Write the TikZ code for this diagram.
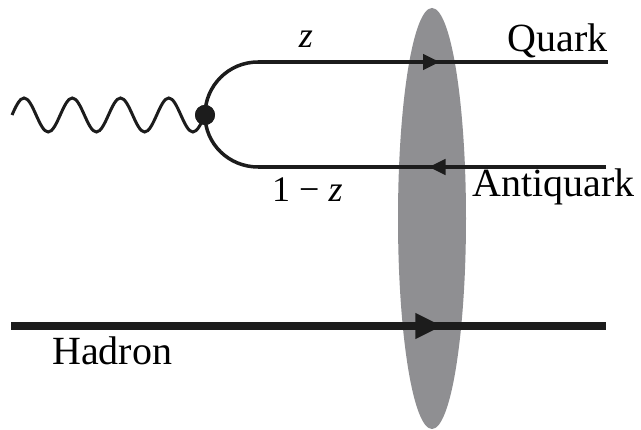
\documentclass[tikz,border=0pt]{standalone}
\usepackage{fontspec}
\setmainfont{Liberation Serif}
\usepackage{tikz}
\usetikzlibrary{arrows.meta,positioning,shapes.geometric,decorations.markings}
\definecolor{blobgray}{RGB}{143,143,146}
\definecolor{ink}{RGB}{28,28,28}

\begin{document}
\begin{tikzpicture}[
  x=1pt, y=1pt,
  lbl/.style={font=\fontsize{40}{48}\selectfont, inner sep=0pt},
  frac/.style={font=\fontsize{36}{43}\selectfont, inner sep=0pt},
  fline/.style={line width=4.5pt, draw=ink},
  arcline/.style={line width=3.5pt, draw=ink},
  photon/.style={line width=3pt, draw=ink},
  midarr/.style={postaction={decorate}, decoration={markings, mark=at position #1 with {\arrow[ink]{Triangle[length=17pt,width=15pt]}}}},
  bigarr/.style={postaction={decorate}, decoration={markings, mark=at position #1 with {\arrow[ink]{Triangle[length=27pt,width=24pt]}}}}
]
  \useasboundingbox (0,0) rectangle (641,430);

  % target blob
  \node[ellipse, fill=blobgray, minimum width=68pt, minimum height=421pt, inner sep=0pt] (blob) at (432,211.5) {};

  \coordinate (qa) at (258,368);
  \coordinate (qb) at (608,368);
  \coordinate (aa) at (258,263);
  \coordinate (ab) at (606,263);
  \coordinate (ha) at (11,104);
  \coordinate (hb) at (606,104);
  \coordinate (gam) at (12,315);
  \node[circle, fill=ink, minimum size=20pt, inner sep=0pt] (vtx) at (205,315) {};

  % photon, four periods from gam to the vertex
  \draw[photon] (gam) \foreach \i in {1,...,4} {
    sin ++(12.06,17) cos ++(12.06,-17) sin ++(12.06,-17) cos ++(12.06,17)} -- (vtx.center);

  % dipole
  \draw[arcline] (vtx.center) to[out=90, in=180] (qa);
  \draw[arcline] (vtx.center) to[out=-90, in=180] (aa);
  \draw[fline, midarr=0.52] (qa) -- (qb);
  \draw[fline, midarr=0.51] (ab) -- (aa);
  \node[circle, fill=ink, minimum size=20pt, inner sep=0pt] at (vtx) {};

  % hadron
  \draw[line width=8pt, draw=ink, bigarr=0.725] (ha) -- (hb);

  \node[lbl, anchor=base east] (quark) at (608,378) {Quark};
  \node[lbl, anchor=base west] (antiquark) at (472,233) {Antiquark};
  \node[lbl, anchor=base west] (hadron) at (52,65) {Hadron};
  \node[frac, anchor=base] (zq) at (306,382) {\textit{z}};
  \node[frac, anchor=base west] (za) at (272,228) {1\hspace{9pt}−\hspace{9pt}\textit{z}};
\end{tikzpicture}
\end{document}
